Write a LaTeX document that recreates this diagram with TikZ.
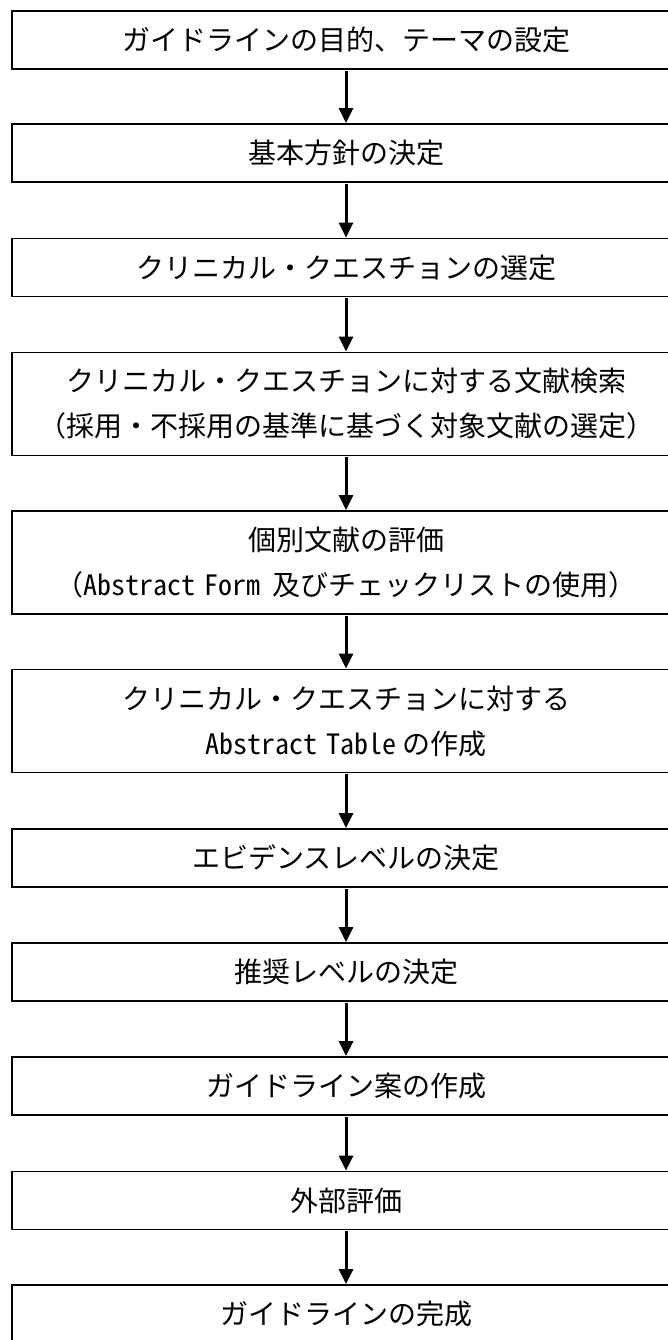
\documentclass[tikz,border=0pt]{standalone}
\usepackage{fontspec}
\setmainfont{Noto Sans CJK JP}
\newfontfamily\hw{Noto Sans CJK JP}[RawFeature=+hwid]
\usetikzlibrary{arrows.meta}
\tikzset{
  box/.style={draw=black, line width=1.8pt, fill=white, minimum width=668pt, inner sep=0pt, align=center, font=\fontsize{28}{45}\selectfont},
  one/.style={box, minimum height=58pt},
  two/.style={box, minimum height=103pt},
  arr/.style={line width=3pt, -{Triangle[width=14pt,length=15pt]}, shorten <=0.9pt}
}
\begin{document}
\begin{tikzpicture}[x=1pt,y=-1pt]
\useasboundingbox (0,0) rectangle (668,1340);
\clip (0,0) rectangle (668,1340);
\node[one] (b1) at (346,40) {ガイドラインの目的、テーマの設定};
\node[one] (b2) at (346,153) {基本方針の決定};
\node[one] (b3) at (346,267.5) {クリニカル・クエスチョンの選定};
\node[two] (b4) at (346,404) {クリニカル・クエスチョンに対する文献検索\\（採用・不採用の基準に基づく対象文献の選定）};
\node[two] (b5) at (346,562.5) {個別文献の評価\\（{\hw Abstract}\hspace{10pt}{\hw Form}\hspace{12pt}及びチェックリストの使用）};
\node[two] (b6) at (346,721) {クリニカル・クエスチョンに対する\\{\hw Abstract}\hspace{10pt}{\hw Table}\hspace{6pt}の作成};
\node[one] (b7) at (346,858) {エビデンスレベルの決定};
\node[one] (b8) at (346,972) {推奨レベルの決定};
\node[one] (b9) at (346,1086) {ガイドライン案の作成};
\node[one] (b10) at (346,1200.5) {外部評価};
\node[one] (b11) at (346,1314) {ガイドラインの完成};
\foreach \a/\b in {b1/b2,b2/b3,b3/b4,b4/b5,b5/b6,b6/b7,b7/b8,b8/b9,b9/b10,b10/b11}
  \draw[arr] (\a.south) -- (\b.north);
\end{tikzpicture}
\end{document}
